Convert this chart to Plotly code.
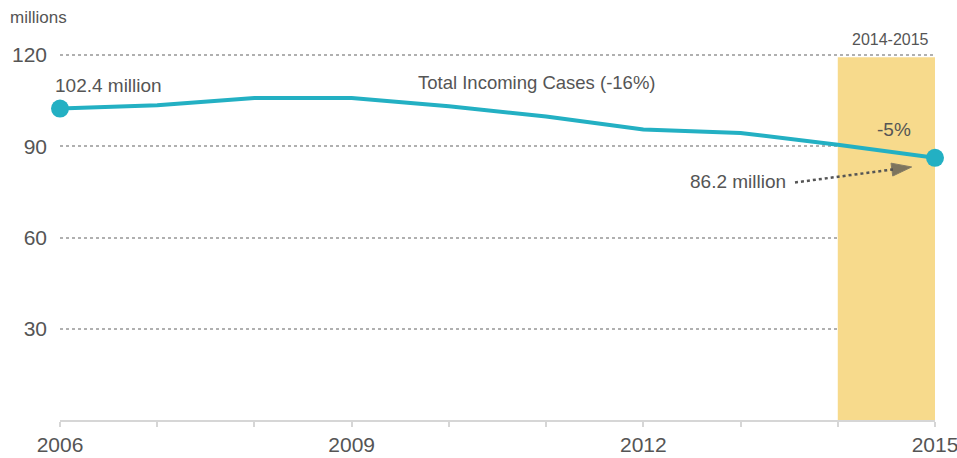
import plotly.graph_objects as go

years = [2006, 2007, 2008, 2009, 2010, 2011, 2012, 2013, 2014, 2015]
cases = [102.4, 103.5, 105.9, 105.9, 103.2, 99.8, 95.5, 94.4, 90.5, 86.2]
y_ticks = [30, 60, 90, 120]
x_ticks = [2006, 2009, 2012, 2015]
band = [2014, 2015]

TEAL = "#23b0c3"
GRAY = "#555555"
FONT = "Liberation Sans, Arial, sans-serif"

fig = go.Figure()

fig.add_shape(type="rect", xref="x", yref="y", x0=band[0], x1=band[1], y0=0, y1=119.3,
              fillcolor="#f7da8c", line_width=0, layer="between")

fig.add_trace(go.Scatter(x=years, y=cases, mode="lines",
                         line=dict(color=TEAL, width=4),
                         hoverinfo="skip", showlegend=False))
fig.add_trace(go.Scatter(x=[years[0], years[-1]], y=[cases[0], cases[-1]], mode="markers",
                         marker=dict(color=TEAL, size=18), showlegend=False, cliponaxis=False))

# dotted arrow pointing to last value
fig.add_trace(go.Scatter(x=[2013.56, 2014.76], y=[78.1, 83.2], mode="lines+markers",
                         line=dict(color="#555555", width=2.5, dash="dot"),
                         marker=dict(symbol="arrow", angleref="previous", size=[0, 21],
                                     color="#4a4a4a"),
                         showlegend=False, hoverinfo="skip"))

anns = [
    dict(x=-0.0251, y=1.0924, xref="paper", yref="paper", text="millions",
         font=dict(size=17, color=GRAY)),
    dict(x=0.9486, y=1.0353, xref="paper", yref="paper", text="2014-2015",
         font=dict(size=16, color=GRAY)),
    dict(x=2006.5, y=110.0, text="102.4 million", font=dict(size=19, color=GRAY)),
    dict(x=2010.91, y=111.1, text="Total Incoming Cases (-16%)",
         font=dict(size=18.5, color=GRAY)),
    dict(x=2014.58, y=95.5, text="-5%", font=dict(size=19, color=GRAY)),
    dict(x=2012.97, y=78.4, text="86.2 million", font=dict(size=19, color=GRAY)),
]
for a in anns:
    a.setdefault("xref", "x")
    a.setdefault("yref", "y")
    a["showarrow"] = False
    a["xanchor"] = "center"
    a["yanchor"] = "middle"
    fig.add_annotation(**a)

fig.update_layout(
    width=957, height=458,
    margin=dict(l=60, r=22, t=52, b=38),
    paper_bgcolor="white", plot_bgcolor="white",
    font=dict(family=FONT, color=GRAY),
    xaxis=dict(range=[2006, 2015], tickvals=x_ticks, ticktext=[str(v) for v in x_ticks],
               minor=dict(dtick=1, tick0=2006, ticks="outside", ticklen=5, tickcolor="#d6d6d6",
                          tickwidth=2, showgrid=False),
               ticks="outside", ticklen=5, tickcolor="#d6d6d6", tickwidth=2,
               showline=True, linecolor="#d6d6d6", linewidth=2, showgrid=False,
               zeroline=False, automargin=False, ticklabeloverflow="allow",
               tickfont=dict(size=21, color=GRAY), fixedrange=True),
    yaxis=dict(range=[0, 121], tickvals=y_ticks, showgrid=True, gridcolor="#b0b0b0",
               griddash="dot", gridwidth=2, zeroline=False, showline=False,
               ticks="", ticklabelstandoff=12, automargin=False, ticklabeloverflow="allow",
               tickfont=dict(size=21, color=GRAY), fixedrange=True),
)

fig.write_html("out.html", config={"displayModeBar": False},
               post_script="document.body.style.margin='0';")
